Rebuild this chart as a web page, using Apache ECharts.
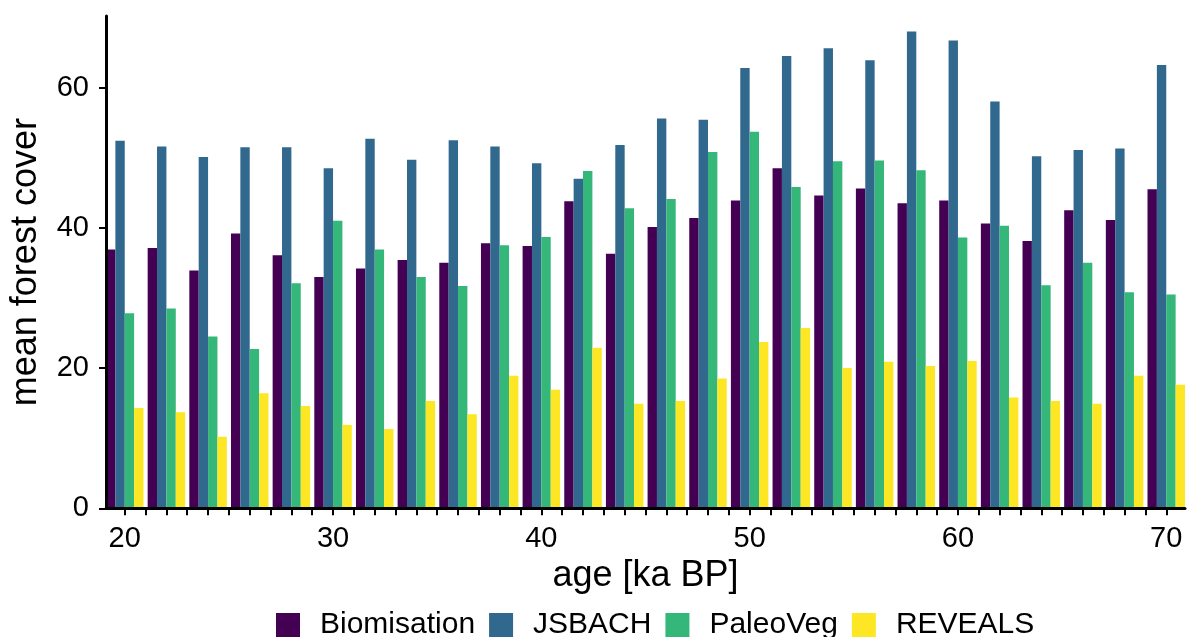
<!DOCTYPE html>
<html>
<head>
<meta charset="utf-8">
<script src="https://cdn.jsdelivr.net/npm/echarts@6/dist/echarts.min.js"></script>
<style>
html,body{margin:0;padding:0;background:#fff;}
#chart{width:1191px;height:637px;}
</style>
</head>
<body>
<div id="chart"></div>
<script>
const ages = [20,22,24,26,28,30,32,34,36,38,40,42,44,46,48,50,52,54,56,58,60,62,64,66,68,70];
const biomisation = [36.9,37.1,33.9,39.2,36.1,33.0,34.2,35.4,35.0,37.8,37.4,43.8,36.3,40.1,41.4,43.9,48.5,44.6,45.6,43.5,43.9,40.6,38.1,42.5,41.1,45.5];
const jsbach = [52.4,51.6,50.1,51.5,51.5,48.5,52.7,49.7,52.5,51.6,49.2,47.0,51.8,55.6,55.4,62.8,64.5,65.6,63.9,68.0,66.7,58.0,50.2,51.1,51.3,63.2];
const paleoveg = [27.8,28.5,24.5,22.7,32.1,41.0,36.9,33.0,31.7,37.5,38.7,48.1,42.8,44.1,50.8,53.7,45.8,49.5,49.6,48.2,38.6,40.3,31.8,35.0,30.8,30.5];
const reveals = [14.3,13.7,10.2,16.4,14.6,11.9,11.3,15.3,13.4,18.9,16.9,22.9,14.9,15.3,18.5,23.7,25.7,20.0,20.9,20.3,21.0,15.8,15.3,14.9,18.9,17.6];
const seriesNames = ['Biomisation','JSBACH','PaleoVeg','REVEALS'];
const xTickValues = [];
for (let v = 20; v <= 70; v++) xTickValues.push(v);
const xLabelValues = [20,30,40,50,60,70];
const yTickValues = [0,20,40,60];

const colors = ['#440154','#31688E','#35B779','#FDE725'];
const allValues = [biomisation, jsbach, paleoveg, reveals];
const font = "'Liberation Sans', Arial, Helvetica, sans-serif";

const chart = echarts.init(document.getElementById('chart'), null, {renderer:'canvas'});
const series = seriesNames.map((name, i) => ({
  name: name,
  type: 'bar',
  data: ages.map((a, j) => [a, allValues[i][j]]),
  barWidth: '22.5%',
  barGap: '0%',
  itemStyle: {color: colors[i]},
  emphasis: {disabled: true},
  animation: false
}));

chart.setOption({
  animation: false,
  backgroundColor: '#ffffff',
  color: colors,
  grid: {left: 103, right: 6, top: 16, bottom: 128.7, containLabel: false},
  xAxis: {
    type: 'value',
    min: 19.1,
    max: 70.9,
    z: 10,
    name: 'age [ka BP]',
    nameLocation: 'middle',
    nameGap: 45,
    nameTextStyle: {fontFamily: font, fontSize: 36, color: '#000'},
    axisLine: {show: true, onZero: false, lineStyle: {color: '#000', width: 3}},
    axisTick: {show: true, customValues: xTickValues, length: 7, lineStyle: {color: '#000', width: 2}},
    axisLabel: {customValues: xLabelValues, margin: 16, fontFamily: font, fontSize: 29, color: '#000'},
    splitLine: {show: false}
  },
  yAxis: {
    type: 'value',
    min: 0,
    max: 70.2,
    z: 10,
    name: 'mean forest cover',
    nameLocation: 'middle',
    nameGap: 62,
    nameTextStyle: {fontFamily: font, fontSize: 36, color: '#000'},
    axisLine: {show: true, lineStyle: {color: '#000', width: 3}},
    axisTick: {show: true, customValues: yTickValues, length: 7, lineStyle: {color: '#000', width: 2}},
    axisLabel: {customValues: yTickValues, margin: 17, fontFamily: font, fontSize: 29, color: '#000'},
    splitLine: {show: false}
  },
  legend: {
    data: seriesNames,
    left: 276,
    top: 610,
    padding: 0,
    orient: 'horizontal',
    icon: 'rect',
    itemWidth: 24,
    itemHeight: 24,
    itemGap: 14,
    textStyle: {fontFamily: font, fontSize: 30, color: '#000', padding: [0,0,0,15]}
  },
  series: series
});
</script>
</body>
</html>
